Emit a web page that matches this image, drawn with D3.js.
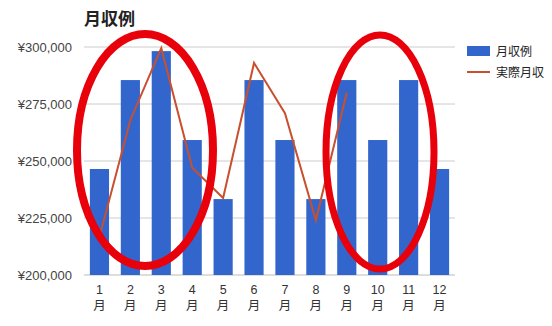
<!DOCTYPE html>
<html>
<head>
<meta charset="utf-8">
<script src="https://cdnjs.cloudflare.com/ajax/libs/d3/7.8.5/d3.min.js"></script>
<style>
body { margin: 0; background: #fff; }
text { font-family: Arial, "Liberation Sans", "Noto Sans CJK JP", sans-serif; }
</style>
</head>
<body>
<div id="chart-area"></div>
<script>
var months = ["1", "2", "3", "4", "5", "6", "7", "8", "9", "10", "11", "12"];
var barValues = [246500, 285500, 298200, 259200, 233300, 285500, 259200, 233300, 285500, 259200, 285500, 246500];
var lineValues = [216700, 268000, 299500, 247000, 233800, 293000, 271000, 224000, 280000];
var yTicks = [200000, 225000, 250000, 275000, 300000];

var width = 552, height = 326;
var plotLeft = 84, plotRight = 455, plotTop = 47, plotBottom = 275;

var svg = d3.select("#chart-area").append("svg")
	.attr("width", width)
	.attr("height", height);

var x = d3.scaleBand().domain(months).range([plotLeft, plotRight]).paddingInner(0.38).paddingOuter(0.19);
var y = d3.scaleLinear().domain([200000, 300000]).range([plotBottom, plotTop]);

// gridlines
svg.selectAll(".grid").data(yTicks).enter().append("line")
	.attr("x1", plotLeft).attr("x2", plotRight)
	.attr("y1", d => y(d)).attr("y2", d => y(d))
	.attr("stroke", d => d == 200000 ? "#bbb" : "#ccc")
	.attr("stroke-width", 1);

// y labels
svg.selectAll(".ylab").data(yTicks).enter().append("text")
	.attr("x", 72).attr("y", d => y(d) + 4.5)
	.attr("text-anchor", "end")
	.attr("font-size", 13)
	.attr("fill", "#444")
	.text(d => "¥" + d3.format(",")(d));

// bars
svg.selectAll(".bar").data(barValues).enter().append("rect")
	.attr("x", (d, i) => x(months[i]))
	.attr("y", d => y(d))
	.attr("width", x.bandwidth())
	.attr("height", d => plotBottom - y(d))
	.attr("fill", "#3366cc");

// line
var line = d3.line()
	.x((d, i) => x(months[i]) + x.bandwidth() / 2)
	.y(d => y(d));
svg.append("path")
	.datum(lineValues)
	.attr("d", line)
	.attr("fill", "none")
	.attr("stroke", "#c8502f")
	.attr("stroke-width", 2);

// x labels
var xl = svg.selectAll(".xlab").data(months).enter().append("text")
	.attr("text-anchor", "middle")
	.attr("font-size", 12.5)
	.attr("fill", "#333");
xl.append("tspan")
	.attr("x", d => x(d) + x.bandwidth() / 2).attr("y", 294)
	.text(d => d);
xl.append("tspan")
	.attr("x", d => x(d) + x.bandwidth() / 2).attr("y", 310)
	.text("月");

// title
svg.append("text")
	.attr("x", 84).attr("y", 25)
	.attr("font-size", 17)
	.attr("font-weight", "bold")
	.attr("fill", "#222")
	.text("月収例");

// legend
svg.append("rect")
	.attr("x", 467).attr("y", 46)
	.attr("width", 23).attr("height", 10)
	.attr("fill", "#3366cc");
svg.append("text")
	.attr("x", 496).attr("y", 56)
	.attr("font-size", 12).attr("fill", "#222")
	.text("月収例");
svg.append("line")
	.attr("x1", 467).attr("x2", 490)
	.attr("y1", 72).attr("y2", 72)
	.attr("stroke", "#c8502f").attr("stroke-width", 2);
svg.append("text")
	.attr("x", 496).attr("y", 77)
	.attr("font-size", 12).attr("fill", "#222")
	.text("実際月収");

// red circles drawn over the chart
svg.append("ellipse")
	.attr("cx", 145).attr("cy", 150)
	.attr("rx", 68).attr("ry", 116)
	.attr("fill", "none").attr("stroke", "#e8000b").attr("stroke-width", 8);
svg.append("ellipse")
	.attr("cx", 380).attr("cy", 152)
	.attr("rx", 54).attr("ry", 117)
	.attr("fill", "none").attr("stroke", "#e8000b").attr("stroke-width", 7);
</script>
</body>
</html>
